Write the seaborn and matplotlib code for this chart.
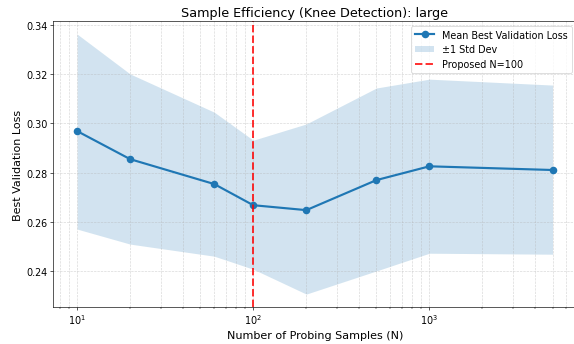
import numpy as np
import pandas as pd
import matplotlib
matplotlib.use("Agg")
import matplotlib.pyplot as plt
import seaborn as sns

n_samples = [10, 20, 60, 100, 200, 500, 1000, 5000]
mean_loss = [0.2969, 0.2855, 0.2754, 0.2668, 0.2648, 0.2770, 0.2826, 0.2811]
upper = [0.3363, 0.3201, 0.3046, 0.2932, 0.2998, 0.3144, 0.3180, 0.3156]
lower = [0.2571, 0.2510, 0.2461, 0.2408, 0.2307, 0.2401, 0.2473, 0.2469]
proposed_n = 100

df = pd.DataFrame({"N": n_samples, "loss": mean_loss})

plt.rcParams['font.family'] = ['DejaVu Sans']

fig, ax = plt.subplots(figsize=(10, 6.01), dpi=57.4)
sns.lineplot(data=df, x="N", y="loss", ax=ax, marker="o", color="#1f77b4",
             linewidth=2.7, markersize=9.5, markeredgewidth=0,
             label="Mean Best Validation Loss")
ax.fill_between(n_samples, lower, upper, color="#1f77b4", alpha=0.2,
                linewidth=0, label="±1 Std Dev")
ax.axvline(proposed_n, color="red", linestyle="--", linewidth=2.5, alpha=0.8,
           label=f"Proposed N={proposed_n}")
ax.set_xscale("log")
ax.grid(True, which="both", linestyle="--", alpha=0.5)
ax.set_title("Sample Efficiency (Knee Detection): large", fontsize=16)
ax.set_xlabel("Number of Probing Samples (N)", fontsize=14)
ax.set_ylabel("Best Validation Loss", fontsize=14)
ax.tick_params(labelsize=12)
ax.legend(loc="upper right", fontsize=12)
fig.subplots_adjust(left=0.093, right=1.004, top=0.936, bottom=0.107)
fig.savefig("out.png", dpi=57.4)
